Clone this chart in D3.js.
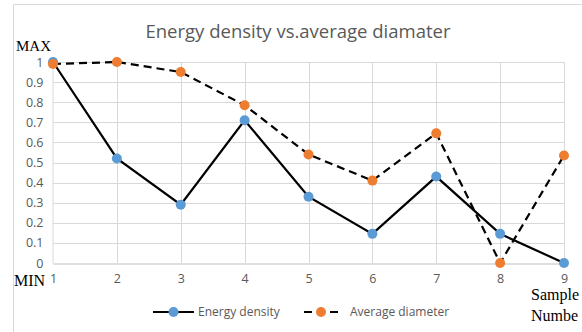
<!DOCTYPE html>
<html>
<head>
<meta charset="utf-8">
<script src="https://cdn.jsdelivr.net/npm/d3@7"></script>
<style>
  body { margin: 0; background: #fff; }
</style>
</head>
<body>
<div id="chart-area"></div>
<script>
const width = 582;
const height = 332;

const samples = [1, 2, 3, 4, 5, 6, 7, 8, 9];
const energyDensity = [1.0, 0.52, 0.29, 0.71, 0.33, 0.145, 0.43, 0.145, 0.0];
const averageDiameter = [0.99, 1.0, 0.95, 0.785, 0.54, 0.41, 0.645, 0.0, 0.535];
const yTicks = [0, 0.1, 0.2, 0.3, 0.4, 0.5, 0.6, 0.7, 0.8, 0.9, 1];

const margin = {left: 53, right: 18, top: 62, bottom: 69};

const svg = d3.select("#chart-area")
    .append("svg")
        .attr("width", width)
        .attr("height", height);

// chart frame (right and bottom edges are cut off in the picture)
svg.append("path")
    .attr("d", `M13.5,${height} V4.5 H${width}`)
    .attr("fill", "none")
    .attr("stroke", "#d9d9d9")
    .attr("stroke-width", 1);

const x = d3.scaleLinear()
    .domain([1, 9])
    .range([margin.left, width - margin.right]);

const y = d3.scaleLinear()
    .domain([0, 1])
    .range([height - margin.bottom, margin.top]);

// grid
svg.append("g")
    .selectAll("line")
    .data(yTicks.slice(1))
    .enter()
    .append("line")
        .attr("x1", x(1))
        .attr("x2", x(9))
        .attr("y1", d => Math.round(y(d)) + 0.5)
        .attr("y2", d => Math.round(y(d)) + 0.5)
        .attr("stroke", "#d9d9d9");

svg.append("g")
    .selectAll("line")
    .data(samples.slice(1))
    .enter()
    .append("line")
        .attr("x1", d => Math.round(x(d)) + 0.5)
        .attr("x2", d => Math.round(x(d)) + 0.5)
        .attr("y1", y(0))
        .attr("y2", y(1))
        .attr("stroke", "#d9d9d9");

// axes
const font = "'Open Sans', sans-serif";

const yAxis = svg.append("g")
    .attr("transform", `translate(${x(1) - 0.5},0)`)
    .call(d3.axisLeft(y).tickValues(yTicks).tickSize(0).tickPadding(9).tickFormat(d3.format("")));
yAxis.select(".domain").attr("stroke", "#d9d9d9");
yAxis.selectAll("text")
    .attr("fill", "#595959")
    .style("font-family", font)
    .style("font-size", "12.5px");

const xAxis = svg.append("g")
    .attr("transform", `translate(0,${Math.round(y(0)) + 0.5})`)
    .call(d3.axisBottom(x).tickValues(samples).tickSize(0).tickPadding(11).tickFormat(d3.format("d")));
xAxis.select(".domain").attr("stroke", "#bfbfbf");
xAxis.selectAll("text")
    .attr("fill", "#595959")
    .style("font-family", font)
    .style("font-size", "12.5px");

// title
svg.append("text")
    .attr("x", 298)
    .attr("y", 38)
    .attr("text-anchor", "middle")
    .attr("fill", "#595959")
    .style("font-family", font)
    .style("font-size", "18.5px")
    .text("Energy density vs.average diamater");

// serif annotations
const serif = "'Liberation Serif', serif";
const notes = [
    {t: "MAX", x: 16, y: 51, s: 15},
    {t: "MIN", x: 14, y: 286, s: 16},
    {t: "Sample", x: 531, y: 300, s: 16},
    {t: "Numbe", x: 531, y: 321, s: 16}
];
svg.selectAll("text.note")
    .data(notes)
    .enter()
    .append("text")
        .attr("class", "note")
        .attr("x", d => d.x)
        .attr("y", d => d.y)
        .attr("fill", "#000")
        .style("font-family", serif)
        .style("font-size", d => d.s + "px")
        .text(d => d.t);

// series
const series = [
    {name: "Energy density", values: energyDensity, color: "#5b9bd5", dash: null},
    {name: "Average diameter", values: averageDiameter, color: "#ed7d31", dash: "8,5"}
];

const line = d3.line()
    .x((d, i) => x(samples[i]))
    .y(d => y(d));

series.forEach(s => {
    svg.append("path")
        .datum(s.values)
        .attr("d", line)
        .attr("fill", "none")
        .attr("stroke", "#000")
        .attr("stroke-width", 2.2)
        .attr("stroke-dasharray", s.dash);
});

series.forEach(s => {
    svg.append("g")
        .selectAll("circle")
        .data(s.values)
        .enter()
        .append("circle")
            .attr("cx", (d, i) => x(samples[i]))
            .attr("cy", d => y(d))
            .attr("r", 5)
            .attr("fill", s.color);
});

// legend
const legend = [
    {s: series[0], x0: 153, x1: 194, tx: 198},
    {s: series[1], x0: 304, x1: 338, tx: 350}
];
legend.forEach(l => {
    const g = svg.append("g");
    g.append("line")
        .attr("x1", l.x0)
        .attr("x2", l.x1)
        .attr("y1", 312)
        .attr("y2", 312)
        .attr("stroke", "#000")
        .attr("stroke-width", 2.2)
        .attr("stroke-dasharray", l.s.dash);
    g.append("circle")
        .attr("cx", (l.x0 + l.x1) / 2)
        .attr("cy", 312)
        .attr("r", 5)
        .attr("fill", l.s.color);
    g.append("text")
        .attr("x", l.tx)
        .attr("y", 316)
        .attr("fill", "#595959")
        .style("font-family", font)
        .style("font-size", "12px")
        .text(l.s.name);
});
</script>
</body>
</html>
